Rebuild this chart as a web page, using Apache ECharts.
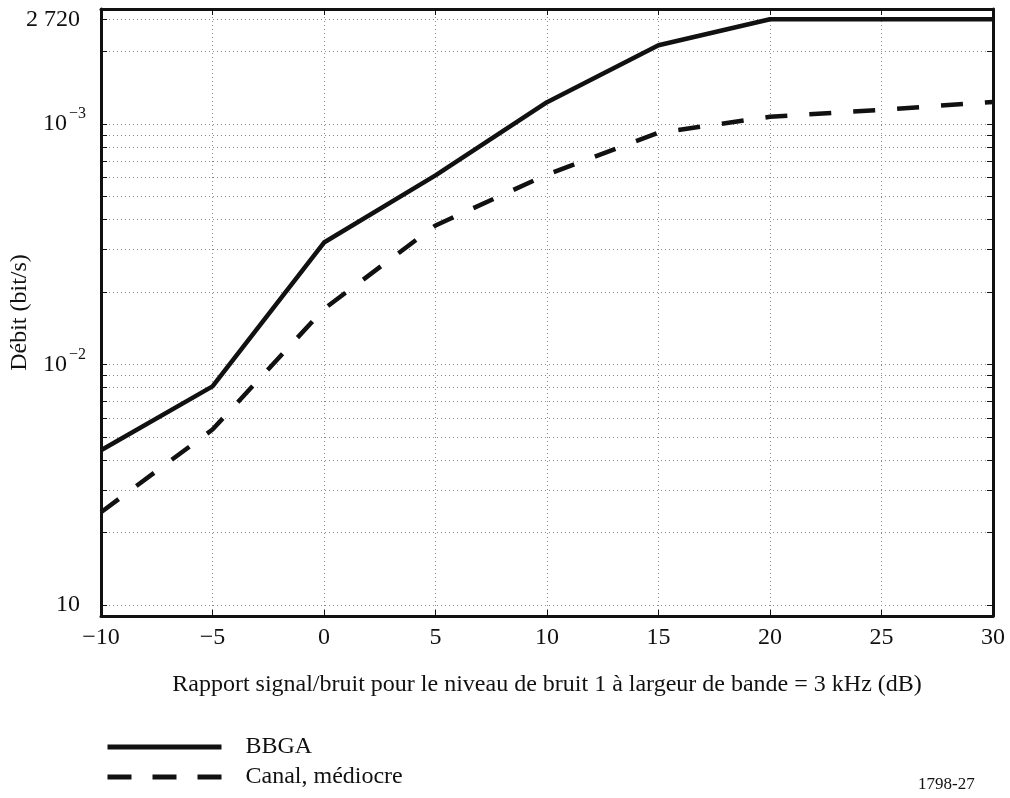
<!DOCTYPE html>
<html>
<head>
<meta charset="utf-8">
<script src="https://cdn.jsdelivr.net/npm/echarts@6/dist/echarts.min.js"></script>
<style>html,body{margin:0;padding:0;background:#fff;}#c{width:1010px;height:798px;}</style>
</head>
<body>
<div id="c"></div>
<script>
const snr = [-10, -5, 0, 5, 10, 15, 20, 25, 30];
const bbga = [44, 81, 321, 610, 1230, 2120, 2720, 2720, 2720];
const canal = [24.3, 53.6, 170, 378, 615, 918, 1069, 1143, 1233];
const yGridValues = [10, 20, 30, 40, 50, 60, 70, 80, 90, 100, 200, 300, 400, 500, 600, 700, 800, 900, 1000, 2000, 2720];
const yLabelValues = [10, 100, 1000, 2720];
const yLabelText = {10: '{p|10}', 100: '{b|10}{s|−2}', 1000: '{b|10}{s|−3}', 2720: '{p|2 720}'};
const seriesNames = ['BBGA', 'Canal, médiocre'];

const FONT = 'Liberation Serif';
const INK = '#111';
const chart = echarts.init(document.getElementById('c'));
const pairs = a => snr.map((x, i) => [x, a[i]]);
const richY = {
  p: {fontFamily: FONT, fontSize: 24, color: INK, lineHeight: 24, padding: [0, 6, 0, 0]},
  b: {fontFamily: FONT, fontSize: 24, color: INK, lineHeight: 24, verticalAlign: 'middle'},
  s: {fontFamily: FONT, fontSize: 16, color: INK, lineHeight: 36, verticalAlign: 'top', padding: [0, 0, 0, 2]}
};
const legendBase = {
  orient: 'vertical', left: 105, padding: 0, itemWidth: 114, itemHeight: 14,
  itemStyle: {color: 'rgba(0,0,0,0)', borderColor: 'rgba(0,0,0,0)', borderWidth: 0},
  textStyle: {fontFamily: FONT, fontSize: 24, color: INK, padding: [0, 0, 0, 19]},
  selectedMode: false
};
chart.setOption({
  animation: false,
  backgroundColor: '#fff',
  grid: {left: 101, right: 17, top: 9, bottom: 182, containLabel: false, outerBoundsMode: 'none'},
  xAxis: [{
    type: 'value', min: -10, max: 30, interval: 5, position: 'bottom',
    name: 'Rapport signal/bruit pour le niveau de bruit 1 à largeur de bande = 3 kHz (dB)',
    nameLocation: 'middle', nameGap: 57, nameMoveOverlap: false,
    nameTextStyle: {fontFamily: FONT, fontSize: 24, color: INK},
    axisLine: {onZero: false, lineStyle: {color: INK, width: 3}},
    axisTick: {inside: true, length: 6, lineStyle: {color: INK, width: 1}},
    axisLabel: {fontFamily: FONT, fontSize: 24, color: INK, margin: 10,
      formatter: v => (v < 0 ? '−' + Math.abs(v) : String(v))},
    splitLine: {show: true, lineStyle: {color: '#8c8c8c', type: [1, 3], width: 1}}
  }, {
    type: 'value', min: -10, max: 30, interval: 5, position: 'top',
    axisLine: {onZero: false, lineStyle: {color: INK, width: 3}},
    axisTick: {inside: true, length: 6, lineStyle: {color: INK, width: 1}},
    axisLabel: {show: false}, splitLine: {show: false}
  }],
  yAxis: [{
    type: 'log', min: 9, max: 3000, position: 'left',
    name: 'Débit (bit/s)', nameLocation: 'middle', nameGap: 69, nameRotate: 90, nameMoveOverlap: false,
    nameTextStyle: {fontFamily: FONT, fontSize: 24, color: INK},
    axisLine: {onZero: false, lineStyle: {color: INK, width: 3}},
    axisTick: {inside: true, length: 6, customValues: yGridValues, lineStyle: {color: INK, width: 1}},
    axisLabel: {customValues: yLabelValues, margin: 15, align: 'right',
      formatter: v => yLabelText[Math.round(v)] || '', rich: richY},
    splitLine: {show: true, lineStyle: {color: '#8c8c8c', type: [1, 3], width: 1}},
    minorTick: {show: false}, minorSplitLine: {show: false}
  }, {
    type: 'log', min: 9, max: 3000, position: 'right',
    axisLine: {onZero: false, lineStyle: {color: INK, width: 3}},
    axisTick: {inside: true, length: 6, customValues: yGridValues, lineStyle: {color: INK, width: 1}},
    axisLabel: {show: false}, splitLine: {show: false}
  }],
  legend: [
    Object.assign({}, legendBase, {top: 735, data: [seriesNames[0]],
      lineStyle: {width: 5, type: 'solid', color: INK}}),
    Object.assign({}, legendBase, {top: 765, data: [seriesNames[1]],
      lineStyle: {width: 5, type: [24, 21], color: INK}})
  ],
  graphic: [{
    type: 'text', left: 918, top: 776,
    style: {text: '1798-27', fontFamily: FONT, fontSize: 17, fill: INK}
  }],
  series: [{
    name: seriesNames[0], type: 'line', data: pairs(bbga), symbol: 'none',
    lineStyle: {color: INK, width: 4.5, type: 'solid'}, itemStyle: {color: INK}
  }, {
    name: seriesNames[1], type: 'line', data: pairs(canal), symbol: 'none',
    lineStyle: {color: INK, width: 4.5, type: [22, 22]}, itemStyle: {color: INK}
  }]
});
</script>
</body>
</html>
